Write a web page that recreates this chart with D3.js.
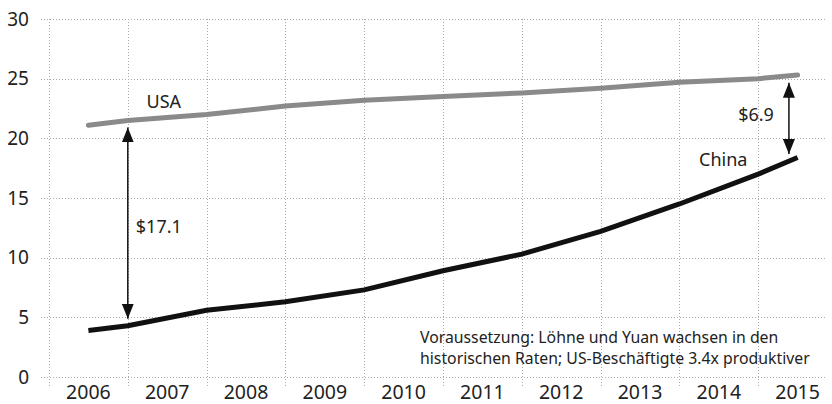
<!DOCTYPE html>
<html>
<head>
<meta charset="utf-8">
<script src="https://cdn.jsdelivr.net/npm/d3@7"></script>
<style>
  body { margin: 0; background: #fff; }
  svg { display: block; font-family: "Noto Sans", sans-serif; }
</style>
</head>
<body>
<div id="chart"></div>
<script>
// x positions in years; 2006 / 2015 at band centres, the rest at band boundaries
const years = [2006, 2007, 2008, 2009, 2010, 2011, 2012, 2013, 2014, 2015];
const xs = [2006, 2006.5, 2007.5, 2008.5, 2009.5, 2010.5, 2011.5, 2012.5, 2013.5, 2014.5, 2015];
const usa = [21.1, 21.5, 22.0, 22.7, 23.2, 23.5, 23.8, 24.2, 24.7, 25.0, 25.3];
const china = [3.9, 4.3, 5.6, 6.3, 7.3, 8.9, 10.3, 12.2, 14.5, 17.0, 18.4];
const yTicks = [0, 5, 10, 15, 20, 25, 30];
const gaps = [
  { x: 2006.5, from: 21.5, to: 4.3, label: '$17.1', side: 'right' },
  { x: 2014.89, from: 25.25, to: 18.1, label: '$6.9', side: 'left' }
];
const note = ['Voraussetzung: Löhne und Yuan wachsen in den',
  'historischen Raten; US-Beschäftigte 3.4x produktiver'];

const width = 832, height = 404;
const svg = d3.select('#chart').append('svg')
  .attr('width', width)
  .attr('height', height);

const x = d3.scaleLinear().domain([2005.5, 2015.5]).range([49, 837]);
const y = d3.scaleLinear().domain([0, 30]).range([377, 19]);

const grid = svg.append('g').attr('stroke', '#aaa').attr('stroke-width', 1)
  .attr('stroke-dasharray', '1,2');
grid.selectAll('.h').data(yTicks).enter().append('line')
  .attr('x1', 41).attr('x2', 826)
  .attr('y1', d => Math.round(y(d)) + 0.5).attr('y2', d => Math.round(y(d)) + 0.5);
grid.selectAll('.v').data(d3.range(2005.5, 2015, 1)).enter().append('line')
  .attr('x1', d => Math.round(x(d)) + 0.5).attr('x2', d => Math.round(x(d)) + 0.5)
  .attr('y1', 19).attr('y2', 388);

// y axis labels
svg.append('g').selectAll('text').data(yTicks).enter().append('text')
  .attr('x', 29).attr('y', d => y(d))
  .attr('dy', '0.35em')
  .attr('text-anchor', 'end')
  .attr('font-size', 19)
  .attr('fill', '#222')
  .text(d => d);

// x axis labels
svg.append('g').selectAll('text').data(years).enter().append('text')
  .attr('x', d => x(d)).attr('y', 399)
  .attr('text-anchor', 'middle')
  .attr('font-size', 19.5)
  .attr('fill', '#222')
  .text(d => d);

const line = d3.line().x((d, i) => x(xs[i])).y(d => y(d));

svg.append('path').datum(usa)
  .attr('d', line)
  .attr('fill', 'none')
  .attr('stroke', '#8a8a8a')
  .attr('stroke-width', 5)
  .attr('stroke-linecap', 'round');

svg.append('path').datum(china)
  .attr('d', line)
  .attr('fill', 'none')
  .attr('stroke', '#111')
  .attr('stroke-width', 5)
  .attr('stroke-linecap', 'butt');

// series labels
svg.append('text').attr('x', x(2006.5) + 36).attr('y', y(21.5) - 12)
  .attr('text-anchor', 'middle').attr('font-size', 18).attr('fill', '#222').text('USA');
svg.append('text').attr('x', x(2014.5) - 35).attr('y', y(18.4) + 9)
  .attr('text-anchor', 'middle').attr('font-size', 18).attr('fill', '#222').text('China');

// double arrows
svg.append('defs').append('marker')
  .attr('id', 'head')
  .attr('viewBox', '0 0 12 15')
  .attr('refX', 15).attr('refY', 6)
  .attr('markerWidth', 15).attr('markerHeight', 12)
  .attr('markerUnits', 'userSpaceOnUse')
  .attr('orient', 'auto-start-reverse')
  .attr('viewBox', '0 0 15 12')
  .append('path')
  .attr('d', 'M0,0L15,6L0,12Z')
  .attr('fill', '#111');

const ann = svg.append('g').selectAll('g').data(gaps).enter().append('g');
ann.append('line')
  .attr('x1', d => x(d.x)).attr('x2', d => x(d.x))
  .attr('y1', d => y(d.from) + 7).attr('y2', d => y(d.to) - 7)
  .attr('stroke', '#111').attr('stroke-width', 1.5)
  .attr('marker-start', 'url(#head)')
  .attr('marker-end', 'url(#head)');
ann.append('text')
  .attr('x', d => d.side === 'right' ? x(d.x) + 8 : x(d.x) - 15)
  .attr('y', d => (y(d.from) + y(d.to)) / 2 + (d.side === 'right' ? 4 : -4))
  .attr('dy', '0.35em')
  .attr('text-anchor', d => d.side === 'right' ? 'start' : 'end')
  .attr('font-size', 18).attr('fill', '#222')
  .text(d => d.label);

// footnote
svg.append('g').selectAll('text').data(note).enter().append('text')
  .attr('x', 420).attr('y', (d, i) => 343 + i * 20.5)
  .attr('font-size', 15.8).attr('fill', '#222')
  .text(d => d);
</script>
</body>
</html>
